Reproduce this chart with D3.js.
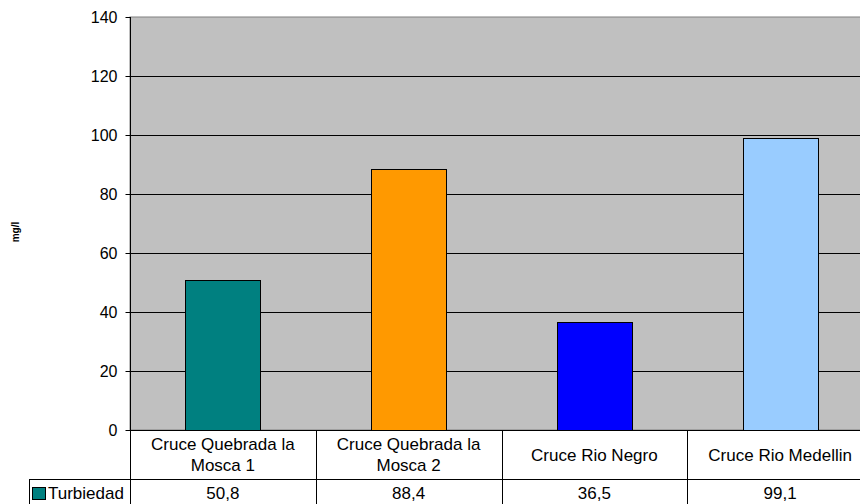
<!DOCTYPE html>
<html>
<head>
<meta charset="utf-8">
<script src="https://cdn.jsdelivr.net/npm/d3@7/dist/d3.min.js"></script>
<style>
  html, body { margin: 0; padding: 0; background: #fff; }
  svg { display: block; font-family: "Liberation Sans", Arial, sans-serif; }
</style>
</head>
<body>
<svg id="chart" width="860" height="504"></svg>
<script>
// Turbidity per sampling site (mg/l)
const categories = [
  ["Cruce Quebrada la", "Mosca 1"],
  ["Cruce Quebrada la", "Mosca 2"],
  ["Cruce Rio Negro"],
  ["Cruce Rio Medellin"]
];
const seriesName = "Turbiedad";
const values = [50.8, 88.4, 36.5, 99.1];
const valueLabels = ["50,8", "88,4", "36,5", "99,1"];
const barColors = ["#008080", "#FF9900", "#0000FF", "#99CCFF"];
const yTicks = [0, 20, 40, 60, 80, 100, 120, 140];
const yLabel = "mg/l";

const svg = d3.select("#chart");
const plot = { left: 130, top: 17, right: 873, bottom: 430 };
const rowSplit = 479, tableBottom = 508, legendLeft = 29;
const fontSize = 17;

const x = d3.scaleBand()
  .domain(d3.range(categories.length))
  .range([plot.left, plot.right])
  .paddingInner(0).paddingOuter(0);
const y = d3.scaleLinear().domain([0, 140]).range([plot.bottom, plot.top]);

// plot background
svg.append("rect")
  .attr("x", plot.left).attr("y", plot.top)
  .attr("width", plot.right - plot.left).attr("height", plot.bottom - plot.top)
  .attr("fill", "#C0C0C0").attr("stroke", "#808080").attr("stroke-width", 1);

// horizontal gridlines
svg.append("g").selectAll("line")
  .data(yTicks.filter(t => t > 0 && t < 140))
  .join("line")
  .attr("x1", plot.left).attr("x2", plot.right)
  .attr("y1", d => Math.round(y(d)) + 0.5).attr("y2", d => Math.round(y(d)) + 0.5)
  .attr("stroke", "#000").attr("stroke-width", 1);

// bars
const barW = x.bandwidth() * 0.405;
svg.append("g").selectAll("rect")
  .data(values)
  .join("rect")
  .attr("x", (d, i) => Math.round(x(i) + (x.bandwidth() - barW) / 2) + 0.5)
  .attr("y", d => Math.round(y(d)) + 0.5)
  .attr("width", Math.round(barW))
  .attr("height", d => Math.round(y(0)) - Math.round(y(d)))
  .attr("fill", (d, i) => barColors[i])
  .attr("stroke", "#000").attr("stroke-width", 1);

// y axis
const yAxis = d3.axisLeft(y).tickValues(yTicks).tickSize(5).tickPadding(8);
const ax = svg.append("g")
  .attr("transform", `translate(${plot.left + 0.5},0)`)
  .call(yAxis);
ax.select(".domain").attr("stroke", "#000").attr("d", `M0,${plot.top}V${plot.bottom}`);
ax.selectAll(".tick line").attr("stroke", "#000");
ax.selectAll(".tick text")
  .attr("font-family", "Liberation Sans, Arial, sans-serif")
  .attr("font-size", 16).attr("fill", "#000");

// y axis title
svg.append("text")
  .attr("transform", "translate(19,232) rotate(-90)")
  .attr("text-anchor", "middle")
  .attr("font-size", 10).attr("font-weight", "bold")
  .text(yLabel);

// data table
const table = svg.append("g").attr("stroke", "#000").attr("stroke-width", 1);
// horizontal lines
table.append("line").attr("x1", plot.left).attr("x2", plot.right)
  .attr("y1", plot.bottom + 0.5).attr("y2", plot.bottom + 0.5);
table.append("line").attr("x1", legendLeft).attr("x2", plot.right)
  .attr("y1", rowSplit + 0.5).attr("y2", rowSplit + 0.5);
// vertical lines
table.append("line").attr("x1", legendLeft + 0.5).attr("x2", legendLeft + 0.5)
  .attr("y1", rowSplit).attr("y2", tableBottom);
table.append("line").attr("x1", plot.left + 0.5).attr("x2", plot.left + 0.5)
  .attr("y1", plot.bottom).attr("y2", tableBottom);
table.selectAll(".sep")
  .data(d3.range(1, categories.length))
  .join("line")
  .attr("x1", i => Math.round(x(i)) + 0.5).attr("x2", i => Math.round(x(i)) + 0.5)
  .attr("y1", plot.bottom).attr("y2", tableBottom);

// category labels
const catG = svg.append("g").attr("font-size", fontSize).attr("text-anchor", "middle");
categories.forEach((lines, i) => {
  const cx = x(i) + x.bandwidth() / 2;
  const mid = (plot.bottom + rowSplit) / 2;
  const lh = 20.5;
  lines.forEach((ln, k) => {
    catG.append("text")
      .attr("x", cx)
      .attr("y", mid + (k - (lines.length - 1) / 2) * lh + 6)
      .text(ln);
  });
});

// value row
svg.append("g").attr("font-size", fontSize).attr("text-anchor", "middle")
  .selectAll("text").data(valueLabels).join("text")
  .attr("x", (d, i) => x(i) + x.bandwidth() / 2)
  .attr("y", 499)
  .text(d => d);

// legend key
svg.append("rect")
  .attr("x", 32.5).attr("y", 487.5).attr("width", 13).attr("height", 12)
  .attr("fill", barColors[0]).attr("stroke", "#000");
svg.append("text")
  .attr("x", 48).attr("y", 499).attr("font-size", fontSize)
  .text(seriesName);
</script>
</body>
</html>
